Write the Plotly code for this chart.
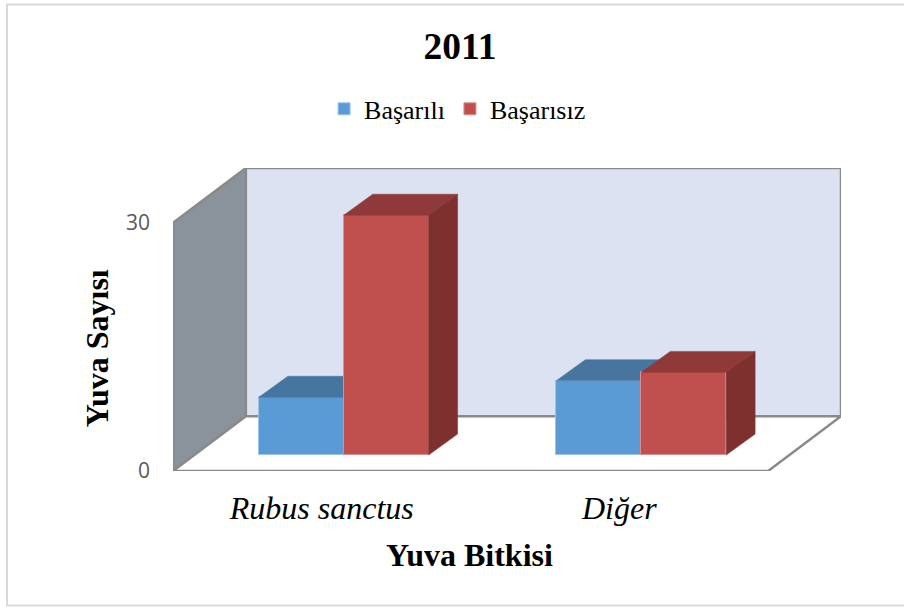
import plotly.graph_objects as go

categories = ["<i>Rubus sanctus</i>", "<i>Diğer</i>"]
basarili = [7, 9]
basarisiz = [29, 10]
series_names = ["Başarılı", "Başarısız"]
y_ticks = [0, 30]

# oblique projection, in axis units
PX_X = 1 / 298.0
PX_Y = 30 / 249.0
WALL_DX, WALL_DY = 73 * PX_X, 55 * PX_Y
BAR_SHIFT_X, BAR_BASE = 22 * PX_X, 16 * PX_Y
BAR_DX, BAR_DY = 29 * PX_X, 21 * PX_Y
BAR_W = 85 * PX_X
X0, X1 = -0.5, 1.5
Y_TOP = WALL_DY + 249 * PX_Y

BLUE, BLUE_TOP = "#5B9BD5", "#46759F"
RED, RED_TOP, RED_SIDE = "#C0504D", "#8F3A38", "#7D302E"
GRAY = "#8A8A8A"

fig = go.Figure()


def poly(xs, ys, color, xa, ya):
    fig.add_trace(go.Scatter(x=xs, y=ys, mode="lines", fill="toself", fillcolor=color,
                             line=dict(width=0.5, color=color), showlegend=False,
                             hoverinfo="skip", xaxis=xa, yaxis=ya))


def bar_faces(values, left, top_c, side_c, xa, ya):
    for i, v in enumerate(values):
        l = i + BAR_SHIFT_X + left
        r = l + BAR_W
        t = v + BAR_BASE
        poly([l, l + BAR_DX, r + BAR_DX, r, l], [t, t + BAR_DY, t + BAR_DY, t, t], top_c, xa, ya)
        poly([r, r + BAR_DX, r + BAR_DX, r, r],
             [BAR_BASE, BAR_BASE + BAR_DY, t + BAR_DY, t, BAR_BASE], side_c, xa, ya)


xs = list(range(len(categories)))
# blue series on the lower axes, red on the overlay so that it hides the blue
fig.add_trace(go.Bar(x=[i + BAR_SHIFT_X - BAR_W for i in xs], y=basarili, base=BAR_BASE, width=BAR_W, offset=0,
                     name=series_names[0], marker=dict(color=BLUE, line=dict(width=1, color="#9CC3E8")),
                     xaxis="x", yaxis="y"))
bar_faces(basarili, -BAR_W, BLUE_TOP, "#3E6A92", "x", "y")
fig.add_trace(go.Bar(x=[i + BAR_SHIFT_X for i in xs], y=basarisiz, base=BAR_BASE, width=BAR_W, offset=0,
                     name=series_names[1], marker=dict(color=RED, line=dict(width=1, color="#D98F8D")),
                     xaxis="x2", yaxis="y2"))
bar_faces(basarisiz, 0, RED_TOP, RED_SIDE, "x2", "y2")

walls = [
    ([X0, X0 + WALL_DX, X0 + WALL_DX, X0], [0, WALL_DY, Y_TOP, Y_TOP - WALL_DY], "#8A929C"),
    ([X0 + WALL_DX, X1 + WALL_DX, X1 + WALL_DX, X0 + WALL_DX], [WALL_DY, WALL_DY, Y_TOP, Y_TOP], "#DCE2F1"),
    ([X0, X1, X1 + WALL_DX, X0 + WALL_DX], [0, 0, WALL_DY, WALL_DY], "#FFFFFF"),
]
shapes = []
for wx, wy, c in walls:
    path = "M " + " L ".join(f"{a},{b}" for a, b in zip(wx, wy)) + " Z"
    shapes.append(dict(type="path", path=path, xref="x", yref="y", layer="below",
                       fillcolor=c, line=dict(color=GRAY, width=2.5)))
# outer frame of the chart area
shapes.append(dict(type="rect", xref="paper", yref="paper", layer="below",
                   x0=-0.2485, x1=1.2, y0=-0.444, y1=1.5395,
                   line=dict(color="#D9D9D9", width=2), fillcolor="rgba(0,0,0,0)"))

x_range = [X0, X1 + WALL_DX]
y_range = [0, Y_TOP]
fig.update_layout(
    width=904, height=608, autosize=False,
    margin=dict(l=172.5, r=62.5, t=167.5, b=136.5, pad=0),
    paper_bgcolor="white", plot_bgcolor="white",
    title=dict(text="<b>2011</b>", x=0.5089, xanchor="center", y=0.924, yanchor="middle",
               font=dict(family="Liberation Serif", size=37.5, color="black")),
    legend=dict(orientation="h", x=0.426, xanchor="center", y=1.195, yanchor="middle",
                font=dict(family="Liberation Serif", size=26, color="black"),
                bgcolor="rgba(0,0,0,0)", itemwidth=30, traceorder="normal"),
    bargap=0, shapes=shapes,
    annotations=[
        dict(text="<b>Yuva Bitkisi</b>", xref="paper", yref="paper", x=0.4446, y=-0.276,
             showarrow=False, xanchor="center", yanchor="middle",
             font=dict(family="Liberation Serif", size=32, color="black")),
        dict(text="<b>Yuva Sayısı</b>", xref="paper", yref="paper", x=-0.1125, y=0.4046, textangle=-90,
             showarrow=False, xanchor="center", yanchor="middle",
             font=dict(family="Liberation Serif", size=32, color="black")),
    ],
    xaxis=dict(range=x_range, tickmode="array", tickvals=xs, ticktext=categories,
               showgrid=False, zeroline=False, showline=False, ticks="", fixedrange=True,
               ticklabelstandoff=15,
               tickfont=dict(family="Liberation Serif", size=32, color="black")),
    yaxis=dict(range=y_range, tickmode="array", tickvals=y_ticks, ticktext=[str(t) for t in y_ticks],
               showgrid=False, zeroline=False, showline=False, ticks="", fixedrange=True,
               ticklabelstandoff=22,
               tickfont=dict(family="Open Sans", size=21, color="#595959")),
    xaxis2=dict(range=x_range, overlaying="x", visible=False, fixedrange=True),
    yaxis2=dict(range=y_range, overlaying="y", visible=False, fixedrange=True),
)

fig.write_html("out.html", config={"displayModeBar": False},
               post_script="document.body.style.margin='0';")
